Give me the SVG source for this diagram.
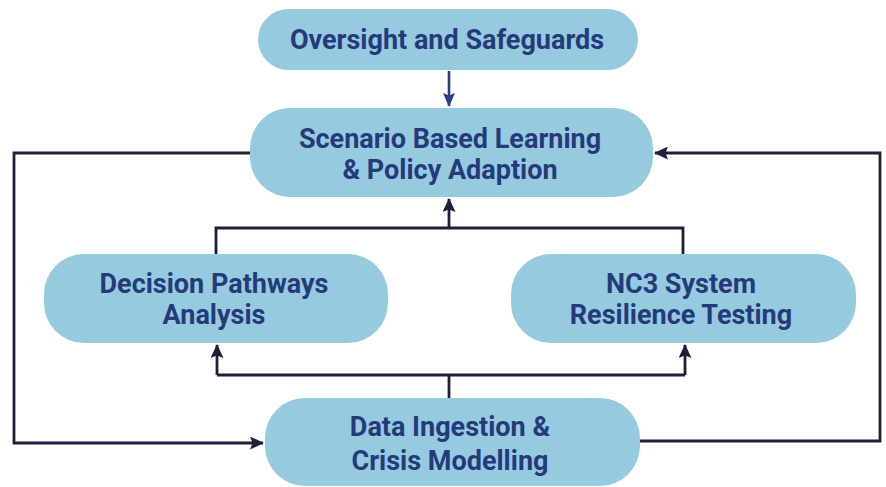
<svg xmlns="http://www.w3.org/2000/svg" width="886" height="487" viewBox="0 0 886 487">
  <defs>
    <marker id="head" viewBox="0 0 14 13" refX="13" refY="6.5" markerWidth="14" markerHeight="13" markerUnits="userSpaceOnUse" orient="auto">
      <path d="M0,0 L14,6.5 L0,13 L2.5,6.5 Z" fill="#1e1f3b"/>
    </marker>
    <marker id="headBlue" viewBox="0 0 14 12" refX="13" refY="6" markerWidth="14" markerHeight="12" markerUnits="userSpaceOnUse" orient="auto">
      <path d="M0,0 L14,6 L0,12 L2.5,6 Z" fill="#2a3c85"/>
    </marker>
    <style>
      .box { fill: #96cadf; }
      .label { font-family: Roboto, "Liberation Sans", sans-serif; font-weight: 700; font-size: 27px; fill: #253a7a; text-anchor: middle; }
      .wire { fill: none; stroke: #1e1f3b; stroke-width: 2.8; }
      .wire-blue { fill: none; stroke: #2a3c85; stroke-width: 2.6; }
    </style>
  </defs>
  <rect width="886" height="487" fill="#ffffff"/>

  <g id="connectors">
    <path class="wire-blue" d="M449,71 L449,106" marker-end="url(#headBlue)"/>
    <path class="wire" d="M250,153 L14,153 L14,443 L263,443" marker-end="url(#head)"/>
    <path class="wire" d="M640,441 L880,441 L880,153 L655,153" marker-end="url(#head)"/>
    <path class="wire" d="M216,254 L216,228 L683,228 L683,254"/>
    <path class="wire" d="M449,228 L449,199" marker-end="url(#head)"/>
    <path class="wire" d="M449,398 L449,375"/>
    <path class="wire" d="M217,375 L685,375"/>
    <path class="wire" d="M217,375 L217,345" marker-end="url(#head)"/>
    <path class="wire" d="M685,375 L685,345" marker-end="url(#head)"/>
  </g>

  <g id="oversight">
    <rect class="box" x="258" y="9" width="380" height="61" rx="30.5"/>
    <text class="label" x="447" y="49">Oversight and Safeguards</text>
  </g>

  <g id="scenario">
    <rect class="box" x="250" y="108" width="403" height="89" rx="40"/>
    <text class="label" x="450" y="148">Scenario Based Learning</text>
    <text class="label" x="450" y="179">&amp; Policy Adaption</text>
  </g>

  <g id="decision">
    <rect class="box" x="44" y="254" width="344" height="89" rx="40"/>
    <text class="label" x="214" y="293">Decision Pathways</text>
    <text class="label" x="214" y="324">Analysis</text>
  </g>

  <g id="nc3">
    <rect class="box" x="511" y="254" width="345" height="89" rx="40"/>
    <text class="label" x="681" y="293">NC3 System</text>
    <text class="label" x="681" y="324">Resilience Testing</text>
  </g>

  <g id="data">
    <rect class="box" x="265" y="398" width="375" height="88" rx="40"/>
    <text class="label" x="450" y="436">Data Ingestion &amp;</text>
    <text class="label" x="450" y="470">Crisis Modelling</text>
  </g>
</svg>
